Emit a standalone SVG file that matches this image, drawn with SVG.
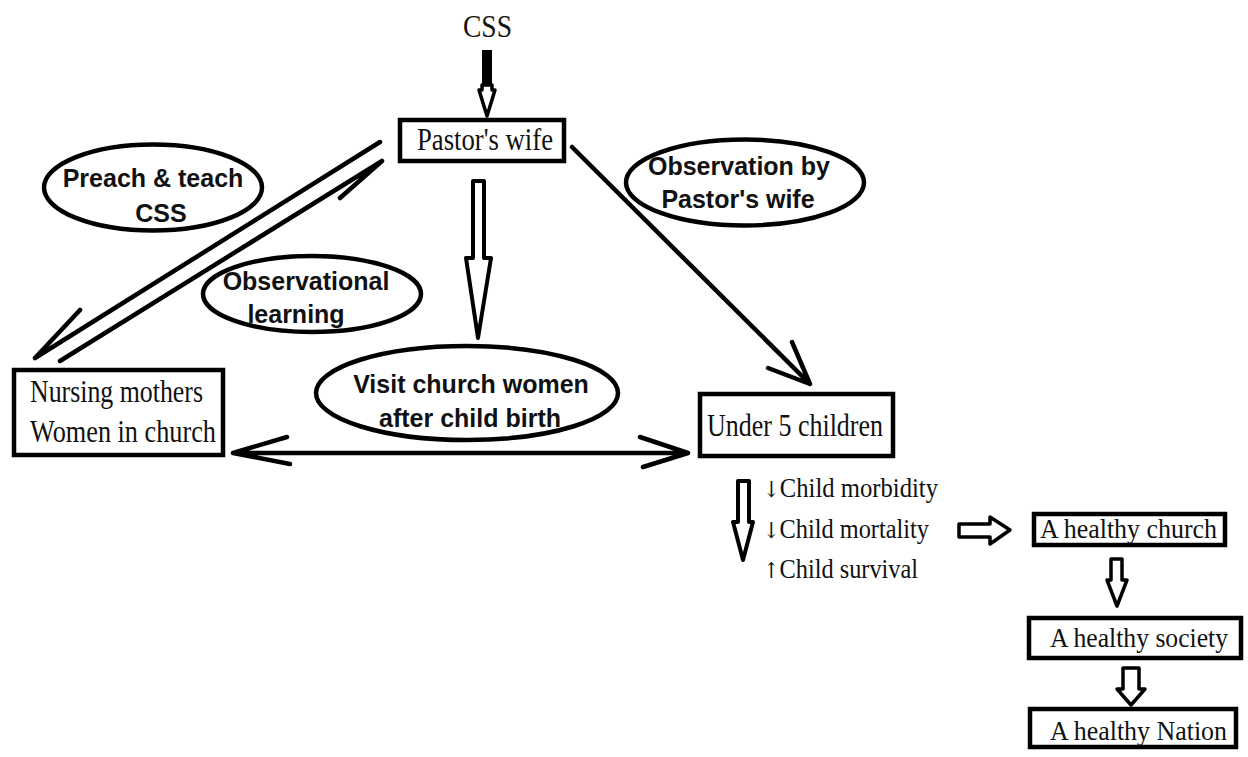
<svg xmlns="http://www.w3.org/2000/svg" width="1248" height="757" viewBox="0 0 1248 757">
<style>
.bg{fill:#fff}
.box{fill:#fff;stroke:#000;stroke-width:4.5}
.ell{fill:#fff;stroke:#000;stroke-width:4.5}
.ln{fill:none;stroke:#000;stroke-width:4.5;stroke-linecap:round;stroke-linejoin:round}
.hol{fill:#fff;stroke:#000;stroke-width:3.5;stroke-linejoin:round}
.ser{font-family:"Liberation Serif","Times New Roman",serif;fill:#111}
.san{font-family:"Liberation Sans",Arial,sans-serif;font-weight:bold;font-size:25px;fill:#111;text-anchor:middle}
.arr{font-family:"DejaVu Serif","Liberation Serif",serif;font-size:22px}
</style>
<rect class="bg" x="0" y="0" width="1248" height="757"/>

<g id="connectors">
  <!-- CSS to Pastor's wife -->
  <rect x="482" y="50" width="10" height="35" fill="#000"/>
  <path class="hol" d="M482,85 H492 V90 H495 L487,116 L479,90 H482 Z"/>
  <!-- Pastor's wife -> Nursing mothers -->
  <path class="ln" d="M380,142 L35,358 M35,358 L80,310"/>
  <!-- Nursing mothers -> Pastor's wife -->
  <path class="ln" d="M60,361 L382,161 M382,161 L340,198"/>
  <!-- Pastor's wife -> Visit (hollow) -->
  <path class="hol" d="M473,181 H484 V258 H491 L478,338 L466,258 H473 Z" style="stroke-width:4"/>
  <!-- Pastor's wife -> Under 5 -->
  <path class="ln" d="M572,147 L810,384 M792,342 L810,384 L768,368"/>
  <!-- Nursing <-> Under 5 -->
  <path class="ln" d="M233,453 L688,453 M287,437 L233,453 L290,464 M640,437 L688,453 L643,467"/>
  <!-- list down arrow -->
  <path class="hol" d="M738,481 H749 V522 H753 L743,560 L733,522 H738 Z" style="stroke-width:4"/>
  <!-- to healthy church -->
  <path class="hol" d="M959,524 H990 V517 L1010,530 L990,544 V537 H959 Z"/>
  <!-- church -> society -->
  <path class="hol" d="M1111,559 H1122 V580 H1127 L1117,606 L1107,580 H1111 Z"/>
  <!-- society -> nation -->
  <path class="hol" d="M1123,668 H1139 V689 H1145 L1131,705 L1117,689 H1123 Z"/>
</g>

<g id="css">
  <text class="ser" x="463" y="37" font-size="32" textLength="49" lengthAdjust="spacingAndGlyphs">CSS</text>
</g>

<g id="pastors-wife">
  <rect class="box" x="400" y="120" width="164" height="41"/>
  <text class="ser" x="417" y="150" font-size="31" textLength="136" lengthAdjust="spacingAndGlyphs">Pastor's wife</text>
</g>

<g id="nursing-mothers">
  <rect class="box" x="14" y="370" width="209" height="85"/>
  <text class="ser" x="30" y="402" font-size="32" textLength="173" lengthAdjust="spacingAndGlyphs">Nursing mothers</text>
  <text class="ser" x="30" y="442" font-size="32" textLength="186" lengthAdjust="spacingAndGlyphs">Women in church</text>
</g>

<g id="under-5">
  <rect class="box" x="700" y="394" width="193" height="62"/>
  <text class="ser" x="707" y="436" font-size="32" textLength="176" lengthAdjust="spacingAndGlyphs">Under 5 children</text>
</g>

<g id="preach-teach">
  <ellipse class="ell" cx="153" cy="187.5" rx="109" ry="43"/>
  <text class="san" x="153" y="187">Preach &amp; teach</text>
  <text class="san" x="161" y="222">CSS</text>
</g>

<g id="observational-learning">
  <ellipse class="ell" cx="312" cy="294" rx="109" ry="38"/>
  <text class="san" x="306" y="290">Observational</text>
  <text class="san" x="296" y="323">learning</text>
</g>

<g id="observation-by">
  <ellipse class="ell" cx="745" cy="182.5" rx="119" ry="43"/>
  <text class="san" x="739" y="175">Observation by</text>
  <text class="san" x="738" y="208">Pastor's wife</text>
</g>

<g id="visit-church-women">
  <ellipse class="ell" cx="467" cy="393" rx="151" ry="47"/>
  <text class="san" x="471" y="393">Visit church women</text>
  <text class="san" x="470" y="427">after child birth</text>
</g>

<g id="outcomes">
  <text class="ser" x="763" y="497" font-size="27" textLength="175" lengthAdjust="spacingAndGlyphs"><tspan class="arr">↓</tspan>Child morbidity</text>
  <text class="ser" x="763" y="538" font-size="27" textLength="166" lengthAdjust="spacingAndGlyphs"><tspan class="arr">↓</tspan>Child mortality</text>
  <text class="ser" x="763" y="578" font-size="27" textLength="155" lengthAdjust="spacingAndGlyphs"><tspan class="arr">↑</tspan>Child survival</text>
</g>

<g id="healthy-church">
  <rect class="box" x="1034" y="514" width="191" height="31"/>
  <text class="ser" x="1040" y="538" font-size="27" textLength="177" lengthAdjust="spacingAndGlyphs">A healthy church</text>
</g>

<g id="healthy-society">
  <rect class="box" x="1029" y="618" width="212" height="40"/>
  <text class="ser" x="1050" y="647" font-size="28" textLength="178" lengthAdjust="spacingAndGlyphs">A healthy society</text>
</g>

<g id="healthy-nation">
  <rect class="box" x="1030" y="709" width="206" height="38"/>
  <text class="ser" x="1050" y="740" font-size="28" textLength="177" lengthAdjust="spacingAndGlyphs">A healthy Nation</text>
</g>
</svg>
